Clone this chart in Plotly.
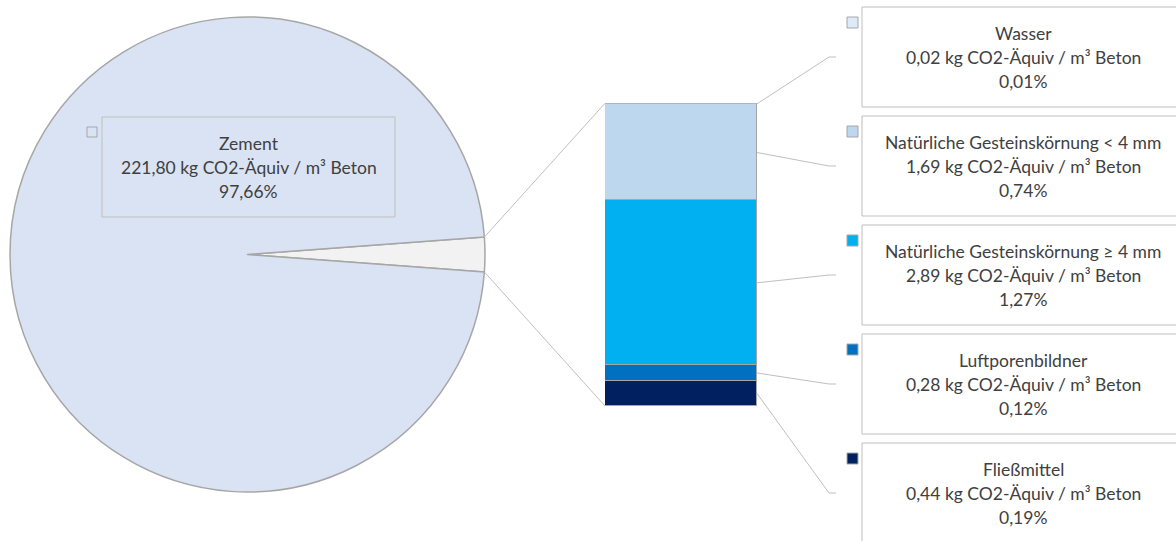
import math
import plotly.graph_objects as go

W, H = 1176, 541

# ---- data -------------------------------------------------------------
main_label = "Zement"
main_value = 221.80
detail_labels = [
    "Wasser",
    "Natürliche Gesteinskörnung < 4 mm",
    "Natürliche Gesteinskörnung ≥ 4 mm",
    "Luftporenbildner",
    "Fließmittel",
]
detail_values = [0.02, 1.69, 2.89, 0.28, 0.44]
unit = "kg CO2-Äquiv / m³ Beton"

# ---- styling ----------------------------------------------------------
detail_colors = ["#DEEBF7", "#BDD7EE", "#00B0F0", "#0070C0", "#002060"]
main_color = "#DAE3F3"
other_color = "#F2F2F2"
edge = "#A6A6A6"
lead = "#BFBFBF"
text_color = "#404040"
FONT = dict(family="Lato, Open Sans, sans-serif", size=17.5, color=text_color)
LINE_GAP = 24.0

other_total = sum(detail_values)
total = main_value + other_total

# ---- layout geometry (pixels) ----------------------------------------
PIE_CX, PIE_CY, PIE_R = 247.5, 254.5, 237.5
BAR_L, BAR_R, BAR_T, BAR_B = 605.0, 757.0, 103.3, 406.0
BOX_L, BOX_W, BOX_H = 862.0, 322.0, 100.0
BOX_Y0, BOX_STEP = 57.0, 109.0
ELBOW_X, STUB_X = 829.0, 836.0
KEY_X, KEY_S = 847.0, 11.0
ZBOX = dict(x0=102.0, x1=395.0, y0=117.0, y1=217.0)


def fx(x):
    return x / W


def fy(y):
    return 1 - y / H


def de(v):
    return f"{v:.2f}".replace(".", ",")


def label_lines(cx, cy, lines):
    """Three centred text lines with a fixed line gap."""
    out = []
    for k, line in enumerate(lines):
        out.append(dict(
            xref="paper", yref="paper", x=fx(cx), y=fy(cy + (k - 1) * LINE_GAP),
            xanchor="center", yanchor="middle", showarrow=False, align="center",
            text=line, font=FONT,
        ))
    return out


half_deg = other_total / total * 180.0

fig = go.Figure()

# pie: main slice plus the combined detail slice, centred at 3 o'clock
fig.add_trace(go.Pie(
    values=[other_total, main_value],
    labels=["Sonstige", main_label],
    sort=False,
    direction="clockwise",
    rotation=90 - half_deg,
    marker=dict(colors=[other_color, main_color], line=dict(color=edge, width=1.5)),
    textinfo="none",
    hoverinfo="label+value+percent",
    showlegend=False,
    domain=dict(x=[fx(PIE_CX - PIE_R), fx(PIE_CX + PIE_R)],
                y=[fy(PIE_CY + PIE_R), fy(PIE_CY - PIE_R)]),
))

# stacked bar with the breakdown of the small slice (bottom to top)
for lab, val, col in reversed(list(zip(detail_labels, detail_values, detail_colors))):
    fig.add_trace(go.Bar(
        x=[0], y=[val], width=[1], name=lab,
        marker=dict(color=col, line=dict(color=edge, width=1.5)),
        showlegend=False,
        hovertemplate=f"{lab}: %{{y}}<extra></extra>",
    ))

shapes = []
annotations = []

# connector lines from the slice edges to the bar corners
a = math.radians(half_deg)
top_pt = (PIE_CX + PIE_R * math.cos(a), PIE_CY - PIE_R * math.sin(a))
bot_pt = (PIE_CX + PIE_R * math.cos(a), PIE_CY + PIE_R * math.sin(a))
for (x0, y0), (x1, y1) in [(top_pt, (BAR_L, BAR_T)), (bot_pt, (BAR_L, BAR_B))]:
    shapes.append(dict(type="line", xref="paper", yref="paper",
                       x0=fx(x0), y0=fy(y0), x1=fx(x1), y1=fy(y1),
                       line=dict(color=lead, width=1), layer="above"))


def bar_y(v):
    return BAR_B - v / other_total * (BAR_B - BAR_T)


# segment midpoints (values list is top to bottom)
cum_from_top = 0.0
mids = []
for v in detail_values:
    top = other_total - cum_from_top
    mids.append(bar_y(top - v / 2))
    cum_from_top += v

for i, (lab, val, col) in enumerate(zip(detail_labels, detail_values, detail_colors)):
    cy = BOX_Y0 + i * BOX_STEP
    top = cy - BOX_H / 2
    # leader line
    shapes.append(dict(type="line", xref="paper", yref="paper",
                       x0=fx(BAR_R), y0=fy(mids[i]), x1=fx(ELBOW_X), y1=fy(cy),
                       line=dict(color=lead, width=1), layer="above"))
    shapes.append(dict(type="line", xref="paper", yref="paper",
                       x0=fx(ELBOW_X), y0=fy(cy), x1=fx(STUB_X), y1=fy(cy),
                       line=dict(color=lead, width=1), layer="above"))
    # label box
    shapes.append(dict(type="rect", xref="paper", yref="paper",
                       x0=fx(BOX_L), x1=fx(BOX_L + BOX_W), y0=fy(top), y1=fy(top + BOX_H),
                       fillcolor="white", line=dict(color=lead, width=1), layer="above"))
    # legend key
    shapes.append(dict(type="rect", xref="paper", yref="paper",
                       x0=fx(KEY_X), x1=fx(KEY_X + KEY_S), y0=fy(top + 10), y1=fy(top + 10 + KEY_S),
                       fillcolor=col, line=dict(color=edge, width=1), layer="above"))
    pct = val / total * 100
    annotations += label_lines(BOX_L + BOX_W / 2, cy,
                               [lab, f"{de(val)} {unit}", f"{de(pct)}%"])

# label for the main slice
shapes.append(dict(type="rect", xref="paper", yref="paper",
                   x0=fx(ZBOX["x0"]), x1=fx(ZBOX["x1"]), y0=fy(ZBOX["y0"]), y1=fy(ZBOX["y1"]),
                   fillcolor=main_color, line=dict(color=lead, width=1), layer="above"))
shapes.append(dict(type="rect", xref="paper", yref="paper",
                   x0=fx(87), x1=fx(87 + KEY_S - 1), y0=fy(127), y1=fy(127 + KEY_S - 1),
                   fillcolor=main_color, line=dict(color=edge, width=1), layer="above"))
annotations += label_lines((ZBOX["x0"] + ZBOX["x1"]) / 2, (ZBOX["y0"] + ZBOX["y1"]) / 2,
                           [main_label, f"{de(main_value)} {unit}",
                            f"{de(main_value / total * 100)}%"])

fig.update_layout(
    width=W, height=H,
    margin=dict(l=0, r=0, t=0, b=0),
    paper_bgcolor="white", plot_bgcolor="rgba(0,0,0,0)",
    barmode="stack", bargap=0,
    xaxis=dict(domain=[fx(BAR_L), fx(BAR_R)], range=[-0.5, 0.5], visible=False, fixedrange=True),
    yaxis=dict(domain=[fy(BAR_B), fy(BAR_T)], range=[0, other_total], visible=False, fixedrange=True),
    shapes=shapes, annotations=annotations,
    showlegend=False,
)

fig.write_html("out.html")
